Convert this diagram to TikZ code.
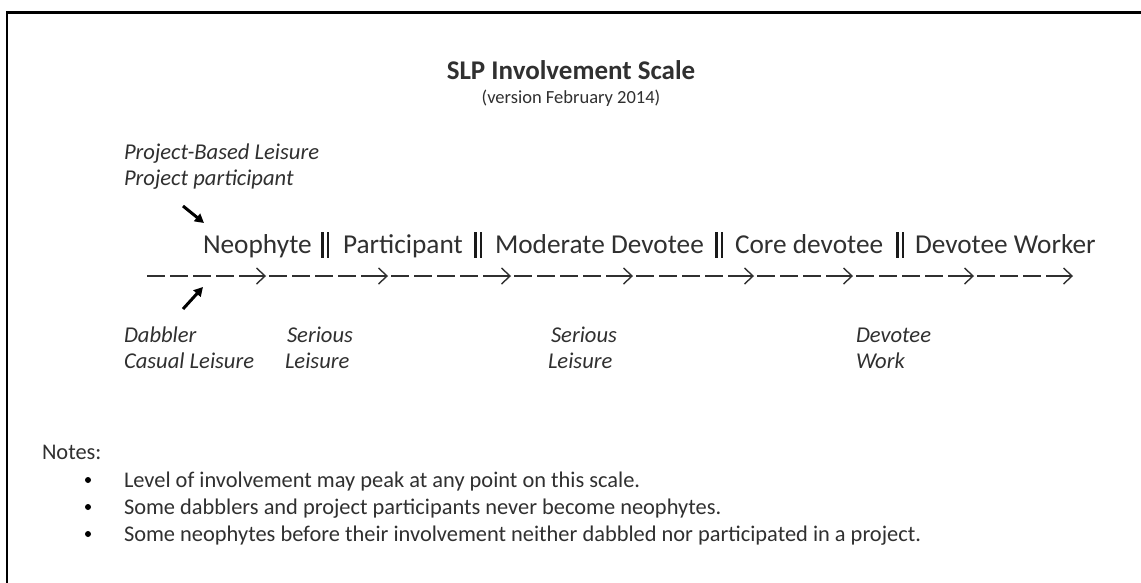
\documentclass[tikz,border=0pt]{standalone}
\usepackage{fontspec}
\setmainfont{Carlito}
\usetikzlibrary{arrows.meta}
\definecolor{ink}{HTML}{303030}
\definecolor{barink}{HTML}{1A1A1A}
\begin{document}
\begin{tikzpicture}[x=1pt,y=-1pt,
  every node/.style={inner sep=0pt, outer sep=0pt, text=ink},
  titlestyle/.style={font=\fontsize{27}{31}\selectfont\bfseries, anchor=base},
  substyle/.style={font=\fontsize{18.5}{22}\selectfont, anchor=base},
  labstyle/.style={font=\fontsize{22.6}{27}\selectfont\itshape, anchor=base west},
  stagestyle/.style={font=\fontsize{27.3}{31}\selectfont, anchor=base west},
  notestyle/.style={font=\fontsize{22.4}{27}\selectfont, anchor=base west},
  dashstyle/.style={draw=ink, line width=1.4pt},
  barstyle/.style={draw=barink, line width=2.2pt},
  boldarrow/.style={draw=black, line width=3pt, -{Triangle[length=9pt,width=9.5pt]}},
  bulletstyle/.style={circle, fill=black, minimum size=6pt}
]
\useasboundingbox (0,0) rectangle (1141,582);
\fill[white] (0,0) rectangle (1141,582);
\begin{scope}
\clip (0,0) rectangle (1141,582);
\draw[line width=2.2pt, black] (7,12.5) rectangle (1160,600);
\end{scope}

% title
\node[titlestyle] (title) at (571,79) {SLP Involvement Scale};
\node[substyle] (subtitle) at (571,103) {(version February 2014)};

% upper labels
\node[labstyle] (pbl) at (124,159) {Project-Based Leisure};
\node[labstyle] (pp) at (124,185) {Project participant};

% stages
\node[stagestyle] (neo) at (203,253) {Neophyte};
\node[stagestyle] (par) at (343,253) {Participant};
\node[stagestyle] (mod) at (495,253) {Moderate Devotee};
\node[stagestyle] (core) at (735,253) {Core devotee};
\node[stagestyle] (work) at (915,253) {Devotee Worker};

% double bars
\foreach \bx in {325,478,719,900}{
  \draw[barstyle] (\bx-2.6,232) -- (\bx-2.6,258);
  \draw[barstyle] (\bx+2.6,232) -- (\bx+2.6,258);
}

% dashed arrow line
\foreach \a/\b/\n [count=\i] in {143/265/4, 265/387/4, 387/510/4, 510/632/4, 632/753/4, 753/852/3, 852/973/4, 973/1072/3}{
  \foreach \k in {1,...,\n}{
    \draw[dashstyle] (\a+4+23*\k-23,276) -- (\a+4+23*\k-5,276);
  }
  \coordinate (tip\i) at (\b,276);
  \coordinate (shaft\i) at (\a+4+23*\n,276);
  \draw[dashstyle] (shaft\i) -- (tip\i);
  \draw[dashstyle, line join=miter] (\b-8.5,268) -- (tip\i) -- (\b-8.5,284);
}

% bold arrows
\coordinate (upA) at (183,206);
\coordinate (upB) at (204,223);
\draw[boldarrow] (upA) -- (upB);
\coordinate (loA) at (183,309);
\coordinate (loB) at (203,287);
\draw[boldarrow] (loA) -- (loB);

% lower labels
\node[labstyle] (dab) at (124,342) {Dabbler};
\node[labstyle] (cas) at (124,368) {Casual Leisure};
\node[labstyle] (ser1) at (287,342) {Serious};
\node[labstyle] (lei1) at (285,368) {Leisure};
\node[labstyle] (ser2) at (551,342) {Serious};
\node[labstyle] (lei2) at (548,368) {Leisure};
\node[labstyle] (dev) at (856,342) {Devotee};
\node[labstyle] (wrk) at (856,368) {Work};

% notes
\node[notestyle] (notes) at (42,459) {Notes:};
\node[bulletstyle] (b1) at (88,480) {};
\node[bulletstyle] (b2) at (88,507) {};
\node[bulletstyle] (b3) at (88,534) {};
\node[notestyle] (n1) at (124,487) {Level of involvement may peak at any point on this scale.};
\node[notestyle] (n2) at (124,514) {Some dabblers and project participants never become neophytes.};
\node[notestyle] (n3) at (124,541) {Some neophytes before their involvement neither dabbled nor participated in a project.};
\end{tikzpicture}
\end{document}
